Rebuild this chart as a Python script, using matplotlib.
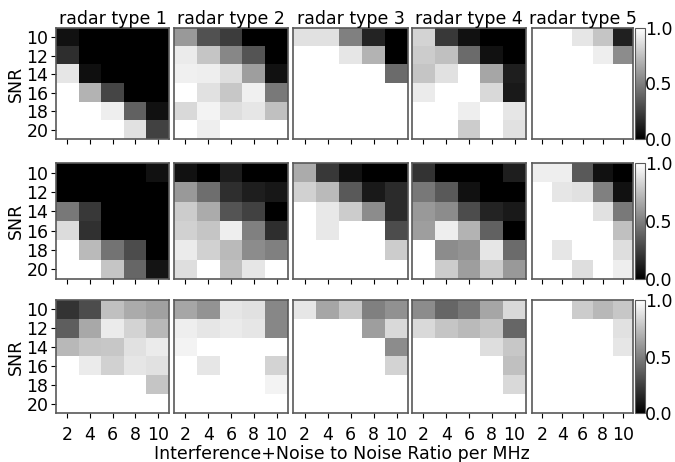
import matplotlib
matplotlib.use("Agg")
import matplotlib.pyplot as plt
import numpy as np

snr = [10, 12, 14, 16, 18, 20]
inr = [2, 4, 6, 8, 10]
radar_types = ["radar type 1", "radar type 2", "radar type 3", "radar type 4", "radar type 5"]

# detection rate per (SNR row, INR column), one block per radar type
top_type1 = [[0.07, 0.00, 0.00, 0.00, 0.00],
             [0.18, 0.00, 0.00, 0.00, 0.00],
             [0.90, 0.06, 0.00, 0.00, 0.00],
             [1.00, 0.70, 0.27, 0.00, 0.00],
             [1.00, 1.00, 0.93, 0.38, 0.07],
             [1.00, 1.00, 1.00, 0.88, 0.26]]
top_type2 = [[0.60, 0.32, 0.24, 0.00, 0.00],
             [0.92, 0.77, 0.53, 0.33, 0.00],
             [0.94, 0.93, 0.87, 0.62, 0.07],
             [1.00, 0.88, 0.78, 0.94, 0.48],
             [0.85, 0.95, 0.87, 0.90, 0.75],
             [1.00, 0.93, 1.00, 1.00, 1.00]]
top_type3 = [[0.88, 0.88, 0.50, 0.14, 0.00],
             [1.00, 1.00, 0.90, 0.70, 0.00],
             [1.00, 1.00, 1.00, 1.00, 0.42],
             [1.00, 1.00, 1.00, 1.00, 1.00],
             [1.00, 1.00, 1.00, 1.00, 1.00],
             [1.00, 1.00, 1.00, 1.00, 1.00]]
top_type4 = [[0.83, 0.22, 0.07, 0.00, 0.00],
             [0.80, 0.75, 0.42, 0.07, 0.00],
             [0.77, 0.88, 1.00, 0.65, 0.12],
             [0.92, 1.00, 1.00, 0.85, 0.10],
             [1.00, 1.00, 0.93, 1.00, 0.90],
             [1.00, 1.00, 0.80, 1.00, 0.88]]
top_type5 = [[1.00, 1.00, 0.90, 0.77, 0.13],
             [1.00, 1.00, 1.00, 0.93, 0.55],
             [1.00, 1.00, 1.00, 1.00, 1.00],
             [1.00, 1.00, 1.00, 1.00, 1.00],
             [1.00, 1.00, 1.00, 1.00, 1.00],
             [1.00, 1.00, 1.00, 1.00, 1.00]]

mid_type1 = [[0.00, 0.00, 0.00, 0.00, 0.07],
             [0.00, 0.00, 0.00, 0.00, 0.00],
             [0.47, 0.22, 0.00, 0.00, 0.00],
             [0.86, 0.19, 0.00, 0.00, 0.00],
             [1.00, 0.73, 0.45, 0.30, 0.00],
             [1.00, 1.00, 0.77, 0.40, 0.08]]
mid_type2 = [[0.07, 0.00, 0.11, 0.00, 0.00],
             [0.60, 0.43, 0.18, 0.12, 0.09],
             [0.80, 0.67, 0.33, 0.26, 0.00],
             [0.82, 0.77, 0.93, 0.50, 0.18],
             [0.92, 0.82, 0.73, 0.55, 0.50],
             [0.87, 1.00, 0.75, 0.90, 1.00]]
mid_type3 = [[0.67, 0.22, 0.07, 0.00, 0.00],
             [0.82, 0.73, 0.35, 0.10, 0.17],
             [1.00, 0.91, 0.80, 0.55, 0.17],
             [1.00, 0.91, 1.00, 1.00, 0.30],
             [1.00, 1.00, 1.00, 1.00, 0.80],
             [1.00, 1.00, 1.00, 1.00, 1.00]]
mid_type4 = [[0.20, 0.00, 0.00, 0.00, 0.12],
             [0.47, 0.35, 0.07, 0.00, 0.00],
             [0.60, 0.55, 0.30, 0.14, 0.10],
             [0.62, 0.93, 0.70, 0.38, 0.00],
             [1.00, 0.55, 0.58, 0.90, 0.42],
             [1.00, 0.80, 0.62, 0.80, 0.60]]
mid_type5 = [[0.93, 0.93, 0.35, 0.07, 0.00],
             [1.00, 0.90, 0.88, 0.50, 0.07],
             [1.00, 1.00, 1.00, 0.88, 0.48],
             [1.00, 1.00, 1.00, 1.00, 0.75],
             [1.00, 0.90, 1.00, 1.00, 0.87],
             [1.00, 1.00, 0.87, 1.00, 0.93]]

bot_type1 = [[0.20, 0.30, 0.75, 0.67, 0.63],
             [0.37, 0.66, 0.92, 0.83, 0.72],
             [0.72, 0.77, 0.78, 0.88, 0.92],
             [1.00, 0.92, 0.82, 0.90, 0.88],
             [1.00, 1.00, 1.00, 1.00, 0.77],
             [1.00, 1.00, 1.00, 1.00, 1.00]]
bot_type2 = [[0.65, 0.58, 0.90, 0.88, 0.53],
             [0.93, 0.90, 0.92, 0.90, 0.53],
             [0.95, 1.00, 1.00, 1.00, 1.00],
             [1.00, 0.90, 1.00, 1.00, 0.83],
             [1.00, 1.00, 1.00, 1.00, 0.95],
             [1.00, 1.00, 1.00, 1.00, 1.00]]
bot_type3 = [[0.90, 0.65, 0.78, 0.50, 0.57],
             [1.00, 1.00, 1.00, 0.62, 0.85],
             [1.00, 1.00, 1.00, 1.00, 0.55],
             [1.00, 1.00, 1.00, 1.00, 0.83],
             [1.00, 1.00, 1.00, 1.00, 1.00],
             [1.00, 1.00, 1.00, 1.00, 1.00]]
bot_type4 = [[0.55, 0.40, 0.47, 0.65, 0.85],
             [0.85, 0.77, 0.73, 0.77, 0.40],
             [1.00, 1.00, 1.00, 0.87, 0.78],
             [1.00, 1.00, 1.00, 1.00, 0.75],
             [1.00, 1.00, 1.00, 1.00, 0.85],
             [1.00, 1.00, 1.00, 1.00, 1.00]]
bot_type5 = [[1.00, 1.00, 0.80, 0.72, 0.78],
             [1.00, 1.00, 1.00, 1.00, 0.88],
             [1.00, 1.00, 1.00, 1.00, 0.90],
             [1.00, 1.00, 1.00, 1.00, 1.00],
             [1.00, 1.00, 1.00, 1.00, 1.00],
             [1.00, 1.00, 1.00, 1.00, 1.00]]

grid = [
    [top_type1, top_type2, top_type3, top_type4, top_type5],
    [mid_type1, mid_type2, mid_type3, mid_type4, mid_type5],
    [bot_type1, bot_type2, bot_type3, bot_type4, bot_type5],
]

W, H = 675, 462
FS = 12.5
fig = plt.figure(figsize=(W / 100, H / 100), dpi=100)

# panel edges in pixels
col_px = [(56, 169), (174, 288), (293, 408), (412, 526), (532, 633)]
row_px = [(28, 139), (163, 279), (300, 413)]
cbar_px = (635, 645)


def px_rect(x0, x1, y0, y1):
    return [x0 / W, 1 - y1 / H, (x1 - x0) / W, (y1 - y0) / H]


for r, (y0, y1) in enumerate(row_px):
    for c, (x0, x1) in enumerate(col_px):
        ax = fig.add_axes(px_rect(x0, x1, y0, y1))
        im = ax.imshow(np.array(grid[r][c]), cmap="gray", vmin=0, vmax=1,
                       aspect="auto", interpolation="nearest")
        for sp in ax.spines.values():
            sp.set_color("0.35")
            sp.set_linewidth(1.2)
        ax.set_xticks(range(len(inr)))
        ax.set_yticks(range(len(snr)))
        if r == 2:
            ax.set_xticklabels([str(v) for v in inr], fontsize=FS)
            ax.tick_params(axis="x", pad=6)
        else:
            ax.set_xticklabels([])
        if c == 0:
            ax.set_yticklabels([str(v) for v in snr], fontsize=FS)
            ax.tick_params(axis="y", pad=2)
            ax.set_ylabel("SNR", fontsize=FS, labelpad=1)
        else:
            ax.set_yticks([])
        if r == 0:
            ax.set_title(radar_types[c], fontsize=FS, pad=1)
    cax = fig.add_axes(px_rect(cbar_px[0], cbar_px[1], y0, y1))
    cb = fig.colorbar(im, cax=cax, ticks=[0.0, 0.5, 1.0])
    cb.ax.tick_params(labelsize=FS, length=0, pad=0)
    cb.outline.set_edgecolor("0.35")

fig.text(342 / W, 1 - 454 / H, "Interference+Noise to Noise Ratio per MHz",
         ha="center", va="center", fontsize=FS)

fig.savefig("out.png", dpi=100)
